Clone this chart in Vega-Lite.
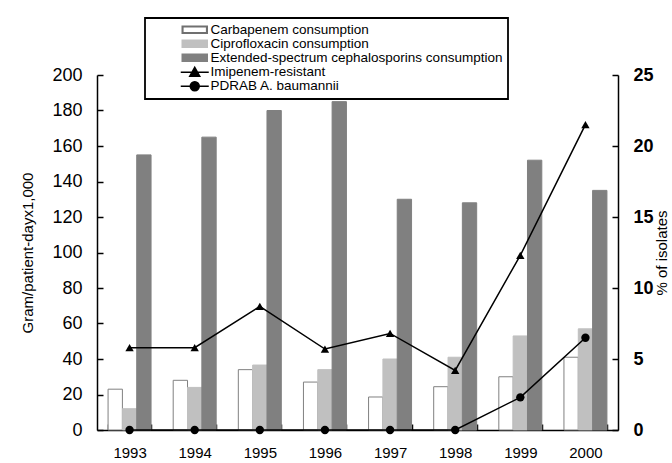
{
  "$schema": "https://vega.github.io/schema/vega-lite/v6.json",
  "width": 521,
  "height": 355,
  "autosize": {"type": "none"},
  "padding": {"left": 97, "top": 75, "right": 54, "bottom": 33},
  "background": "white",
  "config": {
    "view": {"stroke": null},
    "font": "Liberation Sans",
    "axis": {
      "domainColor": "black",
      "tickColor": "black",
      "labelColor": "black",
      "titleColor": "black",
      "grid": false,
      "domainWidth": 1.5,
      "tickWidth": 1.5,
      "labelFont": "Liberation Sans",
      "titleFont": "Liberation Sans",
      "titleFontWeight": "normal"
    }
  },
  "datasets": {
    "consumption": [
      {"year": "1993", "series": "Carbapenem consumption", "value": 23},
      {"year": "1993", "series": "Ciprofloxacin consumption", "value": 12},
      {"year": "1993", "series": "Extended-spectrum cephalosporins consumption", "value": 155},
      {"year": "1994", "series": "Carbapenem consumption", "value": 28},
      {"year": "1994", "series": "Ciprofloxacin consumption", "value": 24},
      {"year": "1994", "series": "Extended-spectrum cephalosporins consumption", "value": 165},
      {"year": "1995", "series": "Carbapenem consumption", "value": 34},
      {"year": "1995", "series": "Ciprofloxacin consumption", "value": 36.6},
      {"year": "1995", "series": "Extended-spectrum cephalosporins consumption", "value": 180},
      {"year": "1996", "series": "Carbapenem consumption", "value": 27},
      {"year": "1996", "series": "Ciprofloxacin consumption", "value": 34},
      {"year": "1996", "series": "Extended-spectrum cephalosporins consumption", "value": 185},
      {"year": "1997", "series": "Carbapenem consumption", "value": 18.6},
      {"year": "1997", "series": "Ciprofloxacin consumption", "value": 40},
      {"year": "1997", "series": "Extended-spectrum cephalosporins consumption", "value": 130},
      {"year": "1998", "series": "Carbapenem consumption", "value": 24.4},
      {"year": "1998", "series": "Ciprofloxacin consumption", "value": 41},
      {"year": "1998", "series": "Extended-spectrum cephalosporins consumption", "value": 128},
      {"year": "1999", "series": "Carbapenem consumption", "value": 30},
      {"year": "1999", "series": "Ciprofloxacin consumption", "value": 53},
      {"year": "1999", "series": "Extended-spectrum cephalosporins consumption", "value": 152},
      {"year": "2000", "series": "Carbapenem consumption", "value": 41},
      {"year": "2000", "series": "Ciprofloxacin consumption", "value": 57},
      {"year": "2000", "series": "Extended-spectrum cephalosporins consumption", "value": 135}
    ],
    "resistance": [
      {"year": "1993", "series": "Imipenem-resistant", "value": 5.8},
      {"year": "1994", "series": "Imipenem-resistant", "value": 5.8},
      {"year": "1995", "series": "Imipenem-resistant", "value": 8.7},
      {"year": "1996", "series": "Imipenem-resistant", "value": 5.7},
      {"year": "1997", "series": "Imipenem-resistant", "value": 6.8},
      {"year": "1998", "series": "Imipenem-resistant", "value": 4.2},
      {"year": "1999", "series": "Imipenem-resistant", "value": 12.3},
      {"year": "2000", "series": "Imipenem-resistant", "value": 21.5},
      {"year": "1993", "series": "PDRAB A. baumannii", "value": 0},
      {"year": "1994", "series": "PDRAB A. baumannii", "value": 0},
      {"year": "1995", "series": "PDRAB A. baumannii", "value": 0},
      {"year": "1996", "series": "PDRAB A. baumannii", "value": 0},
      {"year": "1997", "series": "PDRAB A. baumannii", "value": 0},
      {"year": "1998", "series": "PDRAB A. baumannii", "value": 0},
      {"year": "1999", "series": "PDRAB A. baumannii", "value": 2.3},
      {"year": "2000", "series": "PDRAB A. baumannii", "value": 6.5}
    ]
  },
  "layer": [
    {
      "data": {"name": "consumption"},
      "mark": {"type": "bar", "strokeWidth": 1},
      "encoding": {
        "x": {
          "field": "year",
          "type": "ordinal",
          "title": null,
          "scale": {"paddingInner": 0.34, "paddingOuter": 0.17},
          "axis": {
            "labelAngle": 0,
            "labelFontSize": 15,
            "labelPadding": 21,
            "tickBand": "extent",
            "tickSize": -6
          }
        },
        "xOffset": {
          "field": "series",
          "scale": {
            "domain": ["Carbapenem consumption", "Ciprofloxacin consumption", "Extended-spectrum cephalosporins consumption"],
            "paddingInner": 0,
            "paddingOuter": 0
          }
        },
        "y": {
          "field": "value",
          "type": "quantitative",
          "scale": {"domain": [0, 200]},
          "axis": {
            "orient": "left",
            "title": "Gram/patient-dayx1,000",
            "titleFontSize": 15,
            "titlePadding": 16,
            "values": [0, 20, 40, 60, 80, 100, 120, 140, 160, 180, 200],
            "labelFontSize": 18,
            "labelPadding": 21,
            "tickSize": -6
          }
        },
        "fill": {
          "field": "series",
          "type": "nominal",
          "scale": {
            "domain": ["Carbapenem consumption", "Ciprofloxacin consumption", "Extended-spectrum cephalosporins consumption"],
            "range": ["#ffffff", "#c0c0c0", "#808080"]
          },
          "legend": null
        },
        "stroke": {
          "field": "series",
          "type": "nominal",
          "scale": {
            "domain": ["Carbapenem consumption", "Ciprofloxacin consumption", "Extended-spectrum cephalosporins consumption"],
            "range": ["#808080", "#c0c0c0", "#808080"]
          },
          "legend": null
        }
      }
    },
    {
      "data": {"name": "resistance"},
      "encoding": {
        "x": {"field": "year", "type": "ordinal"},
        "y": {
          "field": "value",
          "type": "quantitative",
          "scale": {"domain": [0, 25]},
          "axis": {
            "orient": "right",
            "title": "% of isolates",
            "titleFontSize": 15,
            "titleAngle": 270,
            "titlePadding": 16,
            "values": [0, 5, 10, 15, 20, 25],
            "labelFontSize": 18,
            "labelFontWeight": "bold",
            "labelPadding": 21,
            "tickSize": -6
          }
        },
        "color": {
          "field": "series",
          "type": "nominal",
          "scale": {
            "domain": ["Carbapenem consumption", "Ciprofloxacin consumption", "Extended-spectrum cephalosporins consumption", "Imipenem-resistant", "PDRAB A. baumannii"],
            "range": ["#707070", "#c0c0c0", "#808080", "#000000", "#000000"]
          },
          "legend": {
            "orient": "none",
            "legendX": 48,
            "legendY": -57,
            "title": null,
            "strokeColor": "black",
            "fillColor": "white",
            "padding": 5,
            "labelFont": "Liberation Sans",
            "labelFontSize": 13.5,
            "labelColor": "black",
            "labelLimit": 0,
            "symbolSize": 100,
            "symbolOffset": 38,
            "labelOffset": 9,
            "rowPadding": -1.5,
            "encode": {
              "legend": {
                "update": {"strokeWidth": {"value": 1.8}}
              },
              "symbols": {
                "update": {
                  "shape": {"signal": "datum.index == 0 ? 'M-2.5,-0.7H2.5V0.7H-2.5Z M-2.38,-0.58V0.58H2.38V-0.58Z' : datum.index < 3 ? 'M-2.5,-0.7H2.5V0.7H-2.5Z' : datum.index == 3 ? 'M-2.8,0H2.8M0,-1L1,0.8H-1Z' : 'M-2.8,0H2.8M0.9,0A0.9,0.9 0 1,1 -0.9,0A0.9,0.9 0 1,1 0.9,0Z'"},
                  "fill": {"signal": "scale('color', datum.value)"},
                  "stroke": {"signal": "datum.index < 3 ? 'transparent' : 'black'"},
                  "strokeWidth": {"value": 1.5},
                  "opacity": {"value": 1},
                  "fillOpacity": {"value": 1}
                }
              }
            }
          }
        }
      },
      "layer": [
        {"mark": {"type": "line", "strokeWidth": 1.5}},
        {
          "mark": {"type": "point", "filled": true, "size": 70, "opacity": 1},
          "encoding": {
            "shape": {
              "field": "series",
              "type": "nominal",
              "scale": {"domain": ["Imipenem-resistant", "PDRAB A. baumannii"], "range": ["triangle-up", "circle"]},
              "legend": null
            }
          }
        }
      ]
    }
  ],
  "resolve": {"scale": {"y": "independent"}}
}
